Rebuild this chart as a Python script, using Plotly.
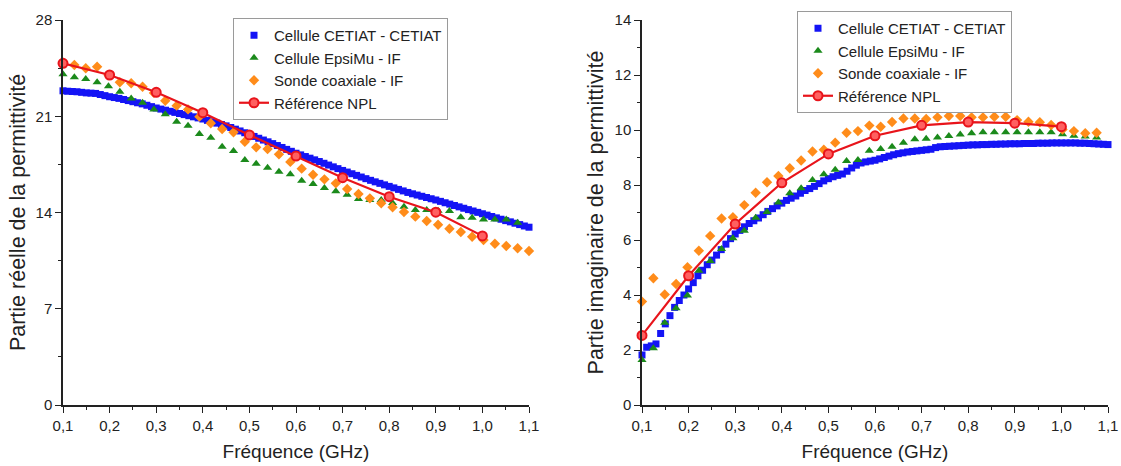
import plotly.graph_objects as go

# ---------------- data ----------------
freq_dense = [round(0.10 + 0.01 * i, 2) for i in range(101)]  # 0.10 ... 1.10 GHz (sampling grid)

cetiat_real = [22.85, 22.82, 22.80, 22.78, 22.74, 22.70, 22.68, 22.66, 22.58, 22.50,
               22.42, 22.36, 22.30, 22.22, 22.14, 22.06, 21.98, 21.90, 21.80, 21.70,
               21.60, 21.52, 21.44, 21.36, 21.28, 21.20, 21.12, 21.04, 20.96, 20.88,
               20.80, 20.70, 20.60, 20.50, 20.40, 20.30, 20.18, 20.06, 19.93, 19.80,
               19.66, 19.53, 19.40, 19.27, 19.14, 19.01, 18.87, 18.73, 18.59, 18.45,
               18.31, 18.19, 18.07, 17.95, 17.83, 17.71, 17.58, 17.45, 17.32, 17.19,
               17.06, 16.94, 16.82, 16.70, 16.58, 16.46, 16.34, 16.23, 16.12, 16.01,
               15.90, 15.79, 15.68, 15.57, 15.46, 15.36, 15.27, 15.18, 15.09, 15.00,
               14.91, 14.81, 14.71, 14.61, 14.51, 14.41, 14.31, 14.21, 14.11, 14.01,
               13.91, 13.81, 13.71, 13.61, 13.51, 13.41, 13.32, 13.22, 13.12, 13.02,
               12.93]

cetiat_imag = [1.82, 2.10, 2.15, 2.22, 2.60, 2.95, 3.25, 3.55, 3.80, 4.00,
               4.22, 4.45, 4.70, 4.90, 5.10, 5.27, 5.45, 5.65, 5.85, 6.05,
               6.22, 6.35, 6.48, 6.60, 6.70, 6.80, 6.92, 7.04, 7.14, 7.24,
               7.34, 7.44, 7.52, 7.60, 7.70, 7.80, 7.87, 7.95, 8.05, 8.15,
               8.23, 8.30, 8.35, 8.40, 8.50, 8.62, 8.72, 8.80, 8.84, 8.87,
               8.90, 8.95, 9.00, 9.05, 9.10, 9.14, 9.17, 9.20, 9.22, 9.24,
               9.26, 9.28, 9.30, 9.36, 9.39, 9.40, 9.41, 9.42, 9.43, 9.44,
               9.45, 9.46, 9.46, 9.47, 9.47, 9.48, 9.48, 9.49, 9.49, 9.50,
               9.50, 9.50, 9.51, 9.51, 9.51, 9.52, 9.52, 9.52, 9.53, 9.53,
               9.53, 9.53, 9.53, 9.53, 9.52, 9.52, 9.51, 9.50, 9.49, 9.48,
               9.47]

freq_sparse = [0.1000, 0.1244, 0.1488, 0.1732, 0.1976, 0.2220, 0.2463, 0.2707, 0.2951,
               0.3195, 0.3439, 0.3683, 0.3927, 0.4171, 0.4415, 0.4659, 0.4902, 0.5146,
               0.5390, 0.5634, 0.5878, 0.6122, 0.6366, 0.6610, 0.6854, 0.7098, 0.7341,
               0.7585, 0.7829, 0.8073, 0.8317, 0.8561, 0.8805, 0.9049, 0.9293, 0.9537,
               0.9780, 1.0024, 1.0268, 1.0512, 1.0756, 1.1000]

epsimu_real = [24.05, 23.83, 23.71, 23.47, 23.18, 22.79, 22.30, 21.99, 21.50, 21.14,
               20.60, 20.31, 19.71, 19.44, 18.79, 18.47, 17.82, 17.55, 17.26, 16.97,
               16.78, 16.31, 16.07, 15.78, 15.54, 15.30, 14.98, 14.91, 14.91, 14.70,
               14.42, 14.18, 14.18, 14.13, 14.11, 13.65, 13.62, 13.50, 13.50, 13.50,
               13.26]

sonde_real = [24.90, 24.73, 24.49, 24.60, 24.00, 23.47, 23.40, 23.15, 22.70, 22.13,
              21.77, 21.50, 20.97, 20.49, 20.07, 19.83, 19.15, 18.74, 18.62, 18.23,
              17.68, 17.19, 16.75, 16.41, 16.12, 15.71, 15.35, 15.03, 14.67, 14.38,
              14.04, 13.70, 13.38, 13.11, 12.82, 12.58, 12.24, 12.00, 11.73, 11.56,
              11.40, 11.20]

epsimu_imag = [1.64, 2.06, 2.99, 3.52, 3.98, 4.88, 5.24, 5.67, 6.06, 6.34,
               6.81, 7.02, 7.36, 7.70, 7.88, 8.18, 8.39, 8.55, 8.87, 8.91,
               9.25, 9.31, 9.39, 9.54, 9.66, 9.68, 9.73, 9.78, 9.84, 9.88,
               9.92, 9.92, 9.92, 9.92, 9.92, 9.92, 9.92, 9.85, 9.79, 9.76,
               9.73]

sonde_imag = [3.76, 4.61, 4.02, 4.40, 5.01, 5.61, 6.15, 6.78, 6.83, 7.27,
              7.72, 8.10, 8.33, 8.61, 8.89, 9.22, 9.28, 9.54, 9.90, 9.96,
              10.16, 10.12, 10.29, 10.42, 10.42, 10.40, 10.46, 10.51, 10.51, 10.46,
              10.46, 10.48, 10.48, 10.36, 10.30, 10.28, 10.18, 10.02, 9.96, 9.88,
              9.90]

npl_freq = [0.1, 0.2, 0.3, 0.4, 0.5, 0.6, 0.7, 0.8, 0.9, 1.0]
npl_real = [24.85, 24.00, 22.74, 21.26, 19.64, 18.11, 16.53, 15.15, 14.02, 12.30]
npl_imag = [2.53, 4.70, 6.58, 8.08, 9.13, 9.79, 10.17, 10.29, 10.25, 10.12]

names = ["Cellule CETIAT - CETIAT", "Cellule EpsiMu - IF", "Sonde coaxiale - IF", "Référence NPL"]
x_title = "Fréquence (GHz)"
y_title_left = "Partie réelle de la permittivité"
y_title_right = "Partie imaginaire de la permittivité"

# ---------------- styles ----------------
BLUE = "#1414f5"
GREEN = "#1b8a1b"
ORANGE = "#ff8c1a"
RED = "#e8141b"
FONT = "Liberation Sans, Arial, sans-serif"

fig = go.Figure()


def add_panel(xa, ya, legend, blue, green, orange, red, orange_freq):
    fig.add_trace(go.Scatter(x=freq_dense, y=blue, mode="markers", name=names[0],
                             xaxis=xa, yaxis=ya, legend=legend, cliponaxis=False,
                             marker=dict(symbol="square", size=7, color=BLUE)))
    fig.add_trace(go.Scatter(x=freq_sparse[:len(green)], y=green, mode="markers", name=names[1],
                             xaxis=xa, yaxis=ya, legend=legend, cliponaxis=False,
                             marker=dict(symbol="triangle-up", size=8, color=GREEN)))
    fig.add_trace(go.Scatter(x=orange_freq, y=orange, mode="markers", name=names[2],
                             xaxis=xa, yaxis=ya, legend=legend, cliponaxis=False,
                             marker=dict(symbol="diamond", size=8, color=ORANGE)))
    fig.add_trace(go.Scatter(x=npl_freq, y=red, mode="lines+markers", name=names[3],
                             xaxis=xa, yaxis=ya, legend=legend, cliponaxis=False,
                             line=dict(color=RED, width=2.2),
                             marker=dict(symbol="circle", size=9, color="#ff6060",
                                         line=dict(color=RED, width=2))))


add_panel("x", "y", "legend", cetiat_real, epsimu_real, sonde_real, npl_real,
          freq_sparse[:len(sonde_real)])
add_panel("x2", "y2", "legend2", cetiat_imag, epsimu_imag, sonde_imag, npl_imag,
          freq_sparse[:len(sonde_imag)])

W, H = 1121, 466
ML, MR, MT, MB = 63, 13, 20, 61
PW = W - ML - MR
PH = H - MT - MB

axis_common = dict(showgrid=False, zeroline=False, showline=True, linecolor="#222",
                   linewidth=1.5, ticks="outside", ticklen=6, tickwidth=1.3,
                   tickcolor="#222", tickfont=dict(family=FONT, size=15, color="#222"),
                   mirror=False, automargin=False)

fig.update_layout(
    width=W, height=H,
    margin=dict(l=ML, r=MR, t=MT, b=MB, autoexpand=False),
    paper_bgcolor="white", plot_bgcolor="white",
    separators=", ",
    font=dict(family=FONT, color="#222"),
    showlegend=True,
    xaxis=dict(domain=[0, 466 / PW], anchor="y", range=[0.1, 1.1], dtick=0.1,
               tick0=0.1, tickformat=".1f",
               minor=dict(ticks="outside", dtick=0.05, tick0=0.1, ticklen=3.5,
                          tickwidth=1.2, tickcolor="#222"),
               title=dict(text=x_title, font=dict(family=FONT, size=19, color="#222"),
                          standoff=12),
               **axis_common),
    yaxis=dict(domain=[0, 1], anchor="x", range=[0, 28], dtick=7, tick0=0,
               minor=dict(ticks="outside", dtick=3.5, ticklen=3.5, tickwidth=1.2,
                          tickcolor="#222"),
               title=dict(text=y_title_left, font=dict(family=FONT, size=21.5, color="#222"),
                          standoff=4),
               **axis_common),
    xaxis2=dict(domain=[(642 - ML) / PW, 1], anchor="y2", range=[0.1, 1.1], dtick=0.1,
                tick0=0.1, tickformat=".1f",
                minor=dict(ticks="outside", dtick=0.05, tick0=0.1, ticklen=3.5,
                           tickwidth=1.2, tickcolor="#222"),
                title=dict(text=x_title, font=dict(family=FONT, size=19, color="#222"),
                           standoff=12),
                **axis_common),
    yaxis2=dict(domain=[0, 1], anchor="x2", range=[0, 14], dtick=2, tick0=0,
                minor=dict(ticks="outside", dtick=1, ticklen=3.5, tickwidth=1.2,
                           tickcolor="#222"),
                title=dict(text=y_title_right, font=dict(family=FONT, size=21.5, color="#222"),
                           standoff=5),
                **axis_common),
    legend=dict(x=(233 - ML) / PW, y=1 - (18 - MT) / PH,
                xanchor="left", yanchor="top",
                bgcolor="white", bordercolor="#9a9a9a", borderwidth=1,
                font=dict(family=FONT, size=15, color="#222"),
                tracegroupgap=0, itemwidth=30),
    legend2=dict(x=(797 - ML) / PW, y=1 - (11 - MT) / PH,
                 xanchor="left", yanchor="top",
                 bgcolor="white", bordercolor="#9a9a9a", borderwidth=1,
                 font=dict(family=FONT, size=15, color="#222"),
                 tracegroupgap=0, itemwidth=30),
)

fig.write_html("out.html", config={"displayModeBar": False},
               post_script="document.body.style.margin='0';document.body.style.overflow='hidden';")
